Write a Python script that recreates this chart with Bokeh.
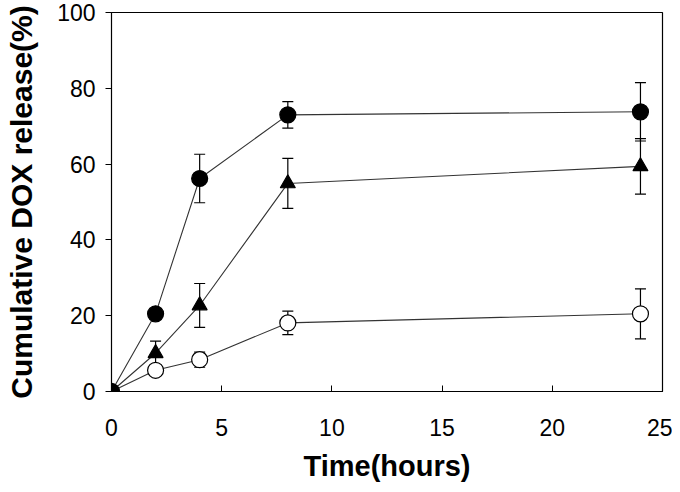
from bokeh.plotting import figure
from bokeh.models import ColumnDataSource, Whisker, TeeHead, FixedTicker, Range1d
from bokeh.embed import file_html
from bokeh.resources import INLINE

time_h = [0, 2, 4, 8, 24]
filled_circle = [0, 20.5, 56.2, 73.0, 73.8]
filled_circle_err = [0, 0.8, 6.4, 3.5, 7.7]
triangle = [0, 10.1, 22.7, 54.9, 59.4]
triangle_err = [0, 3.2, 5.8, 6.6, 7.3]
open_circle = [0, 5.6, 8.4, 18.1, 20.5]
open_circle_err = [0, 1.2, 2.0, 3.1, 6.6]

x_ticks = [0, 5, 10, 15, 20, 25]
y_ticks = [0, 20, 40, 60, 80, 100]

FONT = "Liberation Sans"

p = figure(width=672, height=484, output_backend="svg", toolbar_location=None,
           x_range=Range1d(0, 25), y_range=Range1d(0, 100),
           min_border_left=111, min_border_right=10, min_border_top=12, min_border_bottom=91)
p.grid.visible = False
p.outline_line_color = "black"
p.outline_line_width = 1.2

for ax in (p.xaxis[0], p.yaxis[0]):
    ax.major_label_text_font = FONT
    ax.major_label_text_font_size = "23px"
    ax.major_label_text_color = "black"
    ax.axis_label_text_font = FONT
    ax.axis_label_text_font_style = "bold"
    ax.axis_label_text_color = "black"
    ax.minor_tick_line_color = None
    ax.axis_line_color = "black"
    ax.major_tick_line_color = "black"

p.xaxis.axis_label_text_font_size = "29px"
p.yaxis.axis_label_text_font_size = "30px"
p.xaxis.ticker = FixedTicker(ticks=x_ticks)
p.yaxis.ticker = FixedTicker(ticks=y_ticks)
p.xaxis.axis_label = "Time(hours)"
p.yaxis.axis_label = "Cumulative DOX release(%)"
p.xaxis.major_tick_in = 6
p.xaxis.major_tick_out = 0
p.yaxis.major_tick_in = 0
p.yaxis.major_tick_out = 6
p.xaxis.major_label_standoff = 27
p.yaxis.major_label_standoff = 10
p.xaxis.axis_label_standoff = 11
p.yaxis.axis_label_standoff = 16

series = [
    (open_circle, open_circle_err, "circle", "white"),
    (triangle, triangle_err, "triangle", "black"),
    (filled_circle, filled_circle_err, "circle", "black"),
]

for vals, errs, marker, fill in series:
    src = ColumnDataSource(dict(
        x=time_h, y=vals,
        upper=[v + e for v, e in zip(vals, errs)],
        lower=[v - e for v, e in zip(vals, errs)],
    ))
    w = Whisker(source=src, base="x", upper="upper", lower="lower",
                line_color="black", line_width=1.2,
                upper_head=TeeHead(size=11, line_color="black", line_width=1.2),
                lower_head=TeeHead(size=11, line_color="black", line_width=1.2))
    p.add_layout(w)
    p.line("x", "y", source=src, line_color="#333333", line_width=1.1)
    p.scatter("x", "y", source=src, marker=marker, size=16 if marker == "circle" else 15,
              fill_color=fill, line_color="black", line_width=1.2)

open("out.html", "w").write(file_html(p, INLINE))
